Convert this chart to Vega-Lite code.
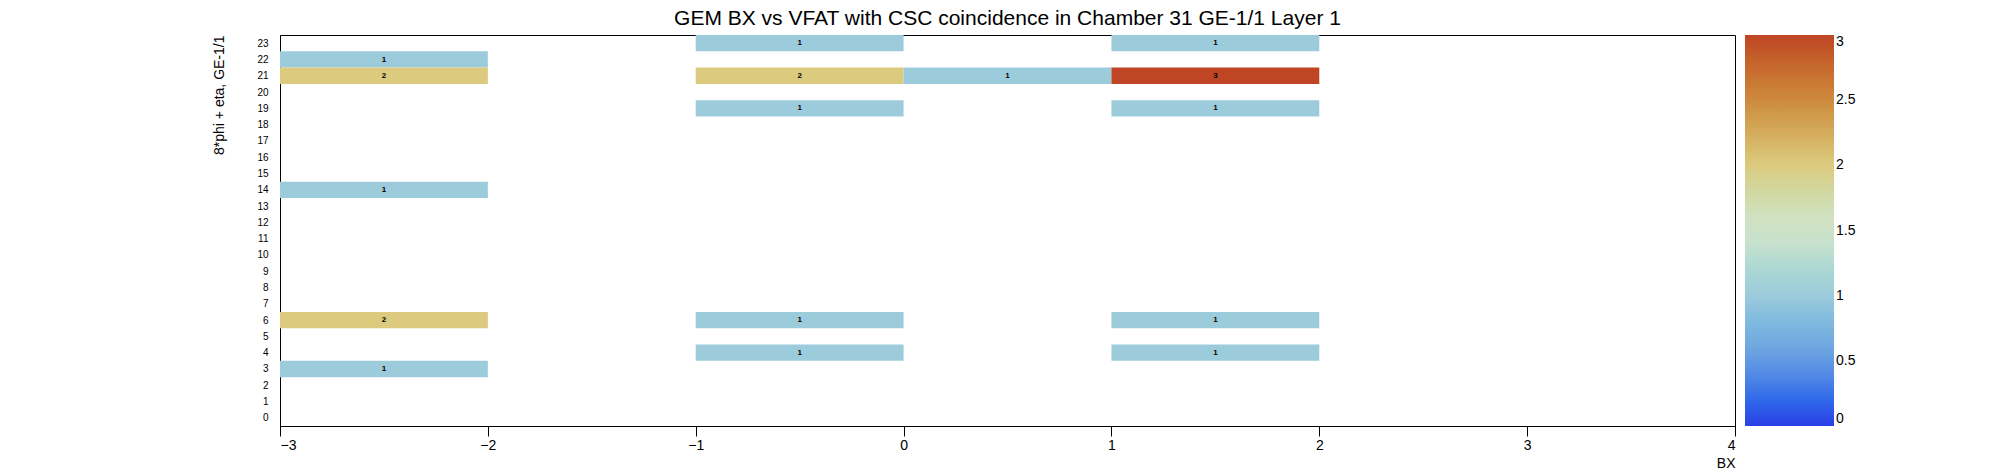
{
  "$schema": "https://vega.github.io/schema/vega-lite/v6.json",
  "width": 1455,
  "height": 391,
  "padding": {"left": 212, "top": 8, "right": 10, "bottom": 5},
  "background": "white",
  "title": {"text": "GEM BX vs VFAT with CSC coincidence in Chamber 31 GE-1/1 Layer 1", "fontSize": 21, "font": "Liberation Sans", "fontWeight": "normal", "anchor": "middle", "offset": 6},
  "data": {
    "values": [
      {"bx_lo": -3, "bx_hi": -2, "bx_mid": -2.5, "row_lo": 22, "row_hi": 23, "count": 1},
      {"bx_lo": -3, "bx_hi": -2, "bx_mid": -2.5, "row_lo": 21, "row_hi": 22, "count": 2},
      {"bx_lo": -3, "bx_hi": -2, "bx_mid": -2.5, "row_lo": 14, "row_hi": 15, "count": 1},
      {"bx_lo": -3, "bx_hi": -2, "bx_mid": -2.5, "row_lo": 6, "row_hi": 7, "count": 2},
      {"bx_lo": -3, "bx_hi": -2, "bx_mid": -2.5, "row_lo": 3, "row_hi": 4, "count": 1},
      {"bx_lo": -1, "bx_hi": 0, "bx_mid": -0.5, "row_lo": 23, "row_hi": 24, "count": 1},
      {"bx_lo": -1, "bx_hi": 0, "bx_mid": -0.5, "row_lo": 21, "row_hi": 22, "count": 2},
      {"bx_lo": -1, "bx_hi": 0, "bx_mid": -0.5, "row_lo": 19, "row_hi": 20, "count": 1},
      {"bx_lo": -1, "bx_hi": 0, "bx_mid": -0.5, "row_lo": 6, "row_hi": 7, "count": 1},
      {"bx_lo": -1, "bx_hi": 0, "bx_mid": -0.5, "row_lo": 4, "row_hi": 5, "count": 1},
      {"bx_lo": 0, "bx_hi": 1, "bx_mid": 0.5, "row_lo": 21, "row_hi": 22, "count": 1},
      {"bx_lo": 1, "bx_hi": 2, "bx_mid": 1.5, "row_lo": 23, "row_hi": 24, "count": 1},
      {"bx_lo": 1, "bx_hi": 2, "bx_mid": 1.5, "row_lo": 21, "row_hi": 22, "count": 3},
      {"bx_lo": 1, "bx_hi": 2, "bx_mid": 1.5, "row_lo": 19, "row_hi": 20, "count": 1},
      {"bx_lo": 1, "bx_hi": 2, "bx_mid": 1.5, "row_lo": 6, "row_hi": 7, "count": 1},
      {"bx_lo": 1, "bx_hi": 2, "bx_mid": 1.5, "row_lo": 4, "row_hi": 5, "count": 1}
    ]
  },
  "encoding": {
    "y": {
      "field": "row_lo", "type": "quantitative",
      "scale": {"domain": [0, 24], "nice": false, "zero": false},
      "axis": {"title": "8*phi + eta, GE-1/1", "titleAnchor": "end", "titleFontWeight": "normal", "titleFontSize": 14, "titlePadding": 30,
        "values": [0.5, 1.5, 2.5, 3.5, 4.5, 5.5, 6.5, 7.5, 8.5, 9.5, 10.5, 11.5, 12.5, 13.5, 14.5, 15.5, 16.5, 17.5, 18.5, 19.5, 20.5, 21.5, 22.5, 23.5],
        "labelExpr": "floor(datum.value)", "ticks": false, "labelFontSize": 10, "labelPadding": 12, "grid": false}
    }
  },
  "layer": [
    {
      "mark": {"type": "rect"},
      "encoding": {
        "x": {"field": "bx_lo", "type": "quantitative",
          "scale": {"domain": [-3, 4], "nice": false, "zero": false},
          "axis": {"title": "BX", "titleAnchor": "end", "titleFontWeight": "normal", "titleFontSize": 14, "tickCount": 7, "labelFontSize": 14, "grid": false, "tickSize": 10}},
        "x2": {"field": "bx_hi"},
        "y2": {"field": "row_hi"},
        "color": {"field": "count", "type": "quantitative",
          "scale": {"domain": [0, 3], "range": ["#2a3fe6", "#6c9be0", "#9ccbdc", "#d6e5d0", "#dccb7f", "#cd8a3e", "#bf4525"]},
          "legend": {"title": null, "gradientLength": 391, "gradientThickness": 89, "tickCount": 6, "format": "~g", "labelFontSize": 14, "offset": 10, "direction": "vertical"}}
      }
    },
    {
      "mark": {"type": "text", "fontSize": 8, "fontWeight": "bold", "dy": -8},
      "encoding": {
        "x": {"field": "bx_mid", "type": "quantitative"},
        "text": {"field": "count", "type": "quantitative"}
      }
    }
  ],
  "config": {
    "font": "Liberation Sans",
    "view": {"stroke": "black"},
    "axis": {"domainColor": "black", "tickColor": "black", "labelColor": "black", "titleColor": "black"}
  }
}
